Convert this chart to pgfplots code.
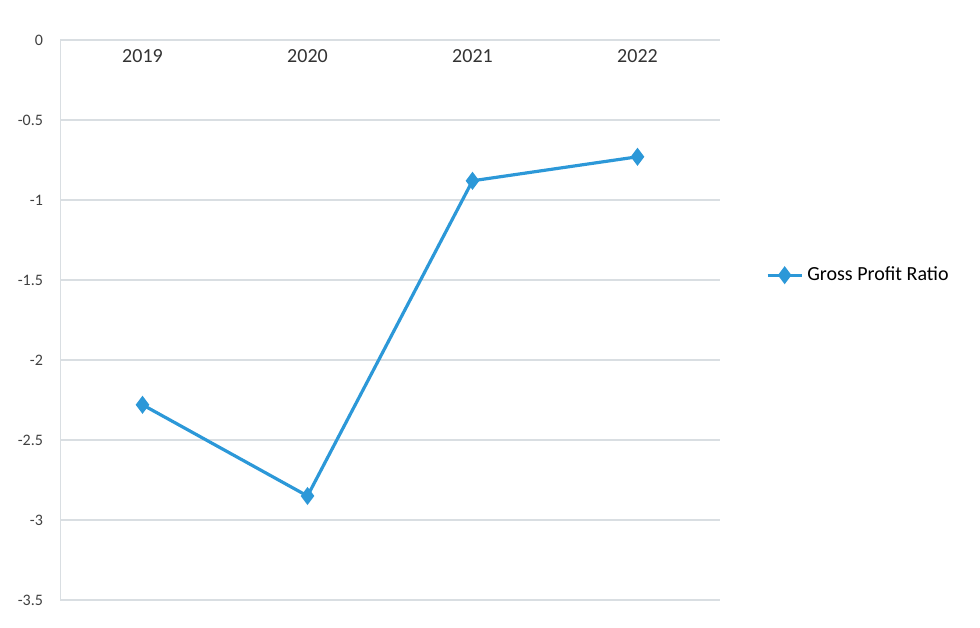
\documentclass[border=0pt]{standalone}
\usepackage{pgfplots}
\pgfplotsset{compat=1.18}
\usepackage{fontspec}
\setmainfont{Carlito}
\definecolor{lineblue}{HTML}{2C98D8}
\definecolor{gridgray}{HTML}{D9DEE2}
\begin{document}
\begin{tikzpicture}
\begin{axis}[
  name=ax,
  scale only axis,
  width=330pt, height=280pt,
  xmin=-0.5, xmax=3.5,
  ymin=-3.5, ymax=0,
  xtick={0,1,2,3},
  xticklabels={2019,2020,2021,2022},
  xticklabel pos=upper,
  xticklabel style={anchor=north, yshift=-1pt, font=\fontsize{10}{12}\selectfont, text=black!80},
  ytick={-3.5,-3,-2.5,-2,-1.5,-1,-0.5,0},
  yticklabel style={font=\fontsize{8}{10}\selectfont, text=black!75, xshift=-5pt},
  /pgf/number format/assume math mode=true,
  ymajorgrids,
  grid style={gridgray, line width=0.6pt},
  major tick length=0pt,
  axis x line*=top,
  axis y line*=left,
  x axis line style={draw=none},
  y axis line style={gridgray},
  legend style={at={(1.06,0.58)}, anchor=west, draw=none, fill=none,
    font=\fontsize{10}{12}\selectfont},
  legend cell align=left,
]
\addplot[lineblue, line width=1.6pt, mark=diamond*, mark size=3.2pt,
  mark options={fill=lineblue, draw=lineblue}]
  coordinates {(0,-2.28) (1,-2.85) (2,-0.88) (3,-0.73)};
\addlegendentry{Gross Profit Ratio}
\end{axis}
\path ([shift={(-30pt,-14pt)}]ax.south west) rectangle ([shift={(130pt,20pt)}]ax.north east);
\end{tikzpicture}
\end{document}
